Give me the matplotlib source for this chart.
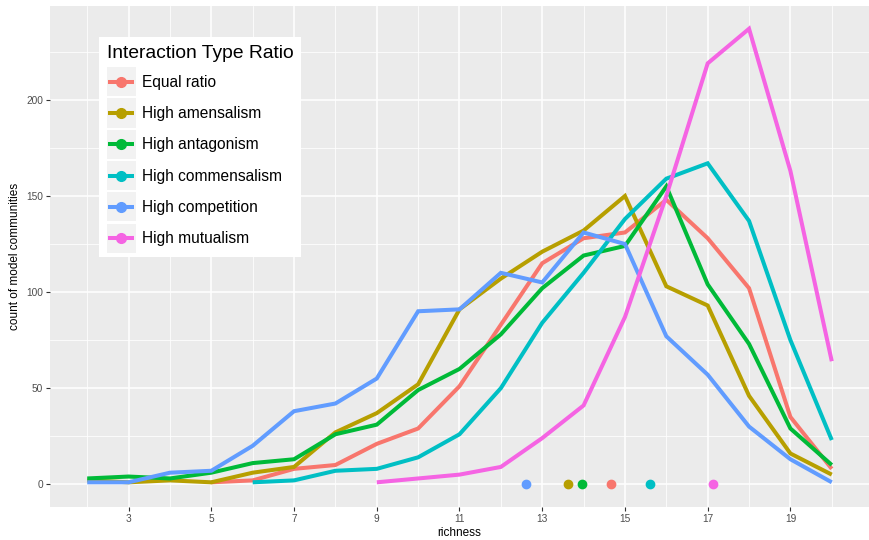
import matplotlib
matplotlib.use("Agg")
import matplotlib.pyplot as plt
from matplotlib.legend_handler import HandlerBase
from matplotlib.patches import Rectangle
from matplotlib.lines import Line2D
import numpy as np

plt.rcParams['font.family'] = ['Liberation Sans', 'DejaVu Sans']

# counts of model communities per richness level, by interaction type ratio
equal_x = [5, 6, 7, 8, 9, 10, 11, 12, 13, 14, 15, 16, 17, 18, 19, 20]
equal_y = [1, 2, 8, 10, 21, 29, 51, 83, 115, 128, 131, 148, 128, 102, 35, 8]

amens_x = [2, 3, 4, 5, 6, 7, 8, 9, 10, 11, 12, 13, 14, 15, 16, 17, 18, 19, 20]
amens_y = [2, 1, 2, 1, 6, 9, 27, 37, 52, 91, 107, 121, 132, 150, 103, 93, 46, 16, 5]

antag_x = [2, 3, 4, 5, 6, 7, 8, 9, 10, 11, 12, 13, 14, 15, 16, 17, 18, 19, 20]
antag_y = [3, 4, 3, 6, 11, 13, 26, 31, 49, 60, 78, 102, 119, 124, 155, 104, 73, 29, 10]

comm_x = [6, 7, 8, 9, 10, 11, 12, 13, 14, 15, 16, 17, 18, 19, 20]
comm_y = [1, 2, 7, 8, 14, 26, 50, 84, 110, 138, 159, 167, 137, 75, 23]

comp_x = [2, 3, 4, 5, 6, 7, 8, 9, 10, 11, 12, 13, 14, 15, 16, 17, 18, 19, 20]
comp_y = [1, 1, 6, 7, 20, 38, 42, 55, 90, 91, 110, 105, 131, 125, 77, 57, 30, 13, 1]

mutu_x = [9, 10, 11, 12, 13, 14, 15, 16, 17, 18, 19, 20]
mutu_y = [1, 3, 5, 9, 24, 41, 87, 150, 219, 237, 163, 64]

# mean richness per group, shown as points on the baseline
mean_richness = [14.67, 13.63, 13.97, 15.61, 12.6, 17.13]

labels = ['Equal ratio', 'High amensalism', 'High antagonism',
          'High commensalism', 'High competition', 'High mutualism']
colors = ['#F8766D', '#B79F00', '#00BA38', '#00BFC4', '#619CFF', '#F564E3']

series = [(equal_x, equal_y), (amens_x, amens_y), (antag_x, antag_y),
          (comm_x, comm_y), (comp_x, comp_y), (mutu_x, mutu_y)]

LW = 2.9


class KeyHandler(HandlerBase):
    # ggplot-like key: grey square with a line and a dot
    def create_artists(self, legend, orig_handle, xdescent, ydescent,
                       width, height, fontsize, trans):
        size = width
        x0 = -xdescent
        y0 = -ydescent + height / 2 - size / 2
        bg = Rectangle((x0, y0), size, size, facecolor='#F2F2F2',
                       edgecolor='none', transform=trans)
        cy = y0 + size / 2
        ln = Line2D([x0 + 1, x0 + size - 1], [cy, cy], color=orig_handle.get_color(),
                    lw=LW, solid_capstyle='butt', transform=trans)
        dot = Line2D([x0 + size / 2], [cy], marker='o', markersize=7,
                     color=orig_handle.get_color(), linestyle='none',
                     transform=trans)
        return [bg, ln, dot]


fig = plt.figure(figsize=(8.7, 5.4), dpi=100)
ax = fig.add_axes([50 / 870, 33 / 540, 819 / 870, 501 / 540])
ax.set_facecolor('#EBEBEB')

handles = []
for (xs, ys), c, lab in zip(series, colors, labels):
    h, = ax.plot(xs, ys, color=c, lw=LW, solid_capstyle='butt',
                 solid_joinstyle='miter', label=lab, zorder=3)
    handles.append(h)

for m, c in zip(mean_richness, colors):
    ax.plot([m], [0], marker='o', markersize=6, color=c, linestyle='none', zorder=4)

ax.set_xlim(1.1, 20.9)
ax.set_ylim(-11.85, 248.85)
ax.set_xticks(np.arange(3, 20, 2))
ax.set_xticks(np.arange(2, 21, 2), minor=True)
ax.set_yticks([0, 50, 100, 150, 200])
ax.set_yticks([25, 75, 125, 175, 225], minor=True)
ax.grid(which='major', color='white', lw=1.1, zorder=0)
ax.grid(which='minor', color='white', lw=0.55, zorder=0)
ax.set_axisbelow(True)
for s in ax.spines.values():
    s.set_visible(False)
ax.tick_params(which='major', length=3, width=0.8, color='#333333',
               labelsize=7.3, labelcolor='#4D4D4D', pad=2)
ax.tick_params(which='minor', length=0)

ax.set_xlabel('richness', fontsize=8.5, color='black', labelpad=2)
ax.set_ylabel('count of model communities', fontsize=8.5, color='black', labelpad=4)

leg = ax.legend(handles=handles, labels=labels, title='Interaction Type Ratio',
                handler_map={Line2D: KeyHandler()},
                loc='upper left', bbox_to_anchor=(99 / 870, 1 - 37 / 540),
                bbox_transform=fig.transFigure,
                fontsize=11.2, title_fontsize=13.9, frameon=True, fancybox=False,
                framealpha=1, edgecolor='none', facecolor='white',
                handlelength=1.87, handleheight=1.87, labelspacing=0.55,
                handletextpad=0.4, borderpad=0.5, borderaxespad=0)
leg._legend_box.align = 'left'
leg.set_zorder(10)

fig.savefig('out.png', dpi=100)
